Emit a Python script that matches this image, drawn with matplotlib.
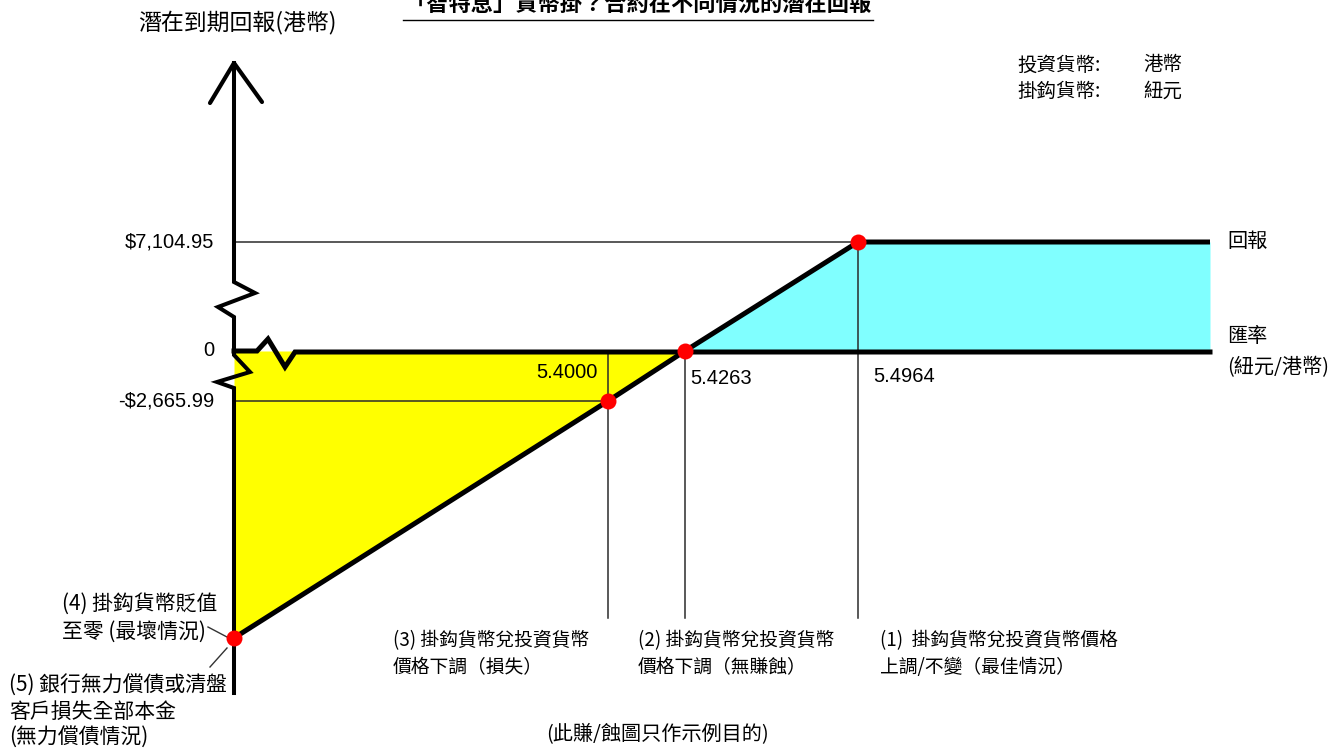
import numpy as np
import matplotlib

matplotlib.use("Agg")
import matplotlib.pyplot as plt
from matplotlib.transforms import Affine2D

# values
rates = [0.0, 5.4000, 5.4263, 5.4964]          # 匯率 (紐元/港幣)
returns = [-550000.0, -2665.99, 0.0, 7104.95]  # 潛在到期回報 (港幣)
rate_labels = ["5.4000", "5.4263", "5.4964"]
return_labels = ["-$2,665.99", "0", "$7,104.95"]

title = "「智特息」貨幣掛？合約在不同情況的潛在回報"
y_title = "潛在到期回報(港幣)"
info_rows = [("投資貨幣:", "港幣"), ("掛鈎貨幣:", "紐元")]
scenario_1 = ["(1)  掛鈎貨幣兌投資貨幣價格", "上調/不變（最佳情況）"]
scenario_2 = ["(2) 掛鈎貨幣兌投資貨幣", "價格下調（無賺蝕）"]
scenario_3 = ["(3) 掛鈎貨幣兌投資貨幣", "價格下調（損失）"]
scenario_4 = ["(4) 掛鈎貨幣貶值", "至零 (最壞情況)"]
scenario_5 = ["(5) 銀行無力償債或清盤", "客戶損失全部本金", "(無力償債情況)"]
footnote = "(此賺/蝕圖只作示例目的)"

CJK = ["Noto Sans CJK TC", "DejaVu Sans"]
NUM = ["Liberation Sans", "DejaVu Sans"]
W, H = 1344, 755


def piecewise(xk, yk):
    # linear between knots, extended with the end slopes
    xk = np.asarray(xk, float)
    yk = np.asarray(yk, float)
    s0 = (yk[1] - yk[0]) / (xk[1] - xk[0])
    s1 = (yk[-1] - yk[-2]) / (xk[-1] - xk[-2])

    def f(v):
        v = np.asarray(v, float)
        out = np.interp(v, xk, yk)
        out = np.where(v < xk[0], yk[0] + (v - xk[0]) * s0, out)
        out = np.where(v > xk[-1], yk[-1] + (v - xk[-1]) * s1, out)
        return out

    return f


def main():
    fig = plt.figure(figsize=(W / 100, H / 100), dpi=100)
    fig.patch.set_facecolor("white")
    ax = fig.add_axes([0, 0, 1, 1])
    ax.set_axis_off()

    # schematic (broken) scales: knots of the drawing, in pixels
    x_knots = [234, 608, 685, 858]
    y_knots = [H - p for p in (638, 401, 351, 242)]
    x_fwd, x_inv = piecewise(rates, x_knots), piecewise(x_knots, rates)
    y_fwd, y_inv = piecewise(returns, y_knots), piecewise(y_knots, returns)
    ax.set_xscale("function", functions=(x_fwd, x_inv))
    ax.set_yscale("function", functions=(y_fwd, y_inv))
    ax.set_xlim(float(x_inv(0)), float(x_inv(W)))
    ax.set_ylim(float(y_inv(0)), float(y_inv(H)))

    px = Affine2D().scale(1 / W, -1 / H).translate(0, 1) + fig.transFigure
    x_end = float(x_inv(1210))
    guide_bottom = float(y_inv(H - 618))
    ox, oy = float(x_fwd(0)), H - float(y_fwd(0))
    ex = float(x_fwd(x_end))

    # shaded loss / gain areas
    ax.fill_between(rates[:3], returns[:3], 0, color="#ffff00", lw=0, zorder=1)
    ax.fill_between([rates[2], rates[3], x_end], [0, 0, 0],
                    [0, returns[3], returns[3]], color="#80ffff", lw=0, zorder=1)

    # thin guide lines
    thin = dict(color="#2b2b2b", lw=1.1, zorder=2)
    ax.plot([0, rates[3]], [returns[3]] * 2, **thin)
    ax.plot([0, rates[1]], [returns[1]] * 2, **thin)
    for r, v in zip(rates[1:], returns[1:]):
        ax.plot([r, r], [max(v, 0), guide_bottom], **thin)

    # payoff line
    ax.plot(rates + [x_end], returns + [returns[3]], color="black", lw=3.6,
            solid_capstyle="butt", solid_joinstyle="round", zorder=3)

    # exchange-rate axis with its break
    zx = [0, 23, 34, 51, 61, ex - ox]
    zy = [0, 0, -12, 16, 1, 1]
    ax.plot([ox + a for a in zx], [oy + b for b in zy], color="black", lw=3.6,
            transform=px, solid_joinstyle="miter", zorder=3)

    # return axis with two breaks and arrow head
    ax_x = [0, 0, 21, -16, 0, 0, 16, -17, 0, 0]
    ax_y = [-288, -69, -58, -44, -34, 4, 21, 31, 37, 342]
    ax.plot([ox + a for a in ax_x], [oy + b for b in ax_y], color="black",
            lw=2.9, transform=px, solid_joinstyle="miter", zorder=3)
    ax.plot([ox - 24, ox, ox + 28], [oy - 248, oy - 288, oy - 249], color="black",
            lw=3.0, transform=px, solid_capstyle="round", zorder=3)

    # leader lines to the worst-case point
    wx, wy = ox, H - float(y_fwd(returns[0]))
    lead = dict(color="#333333", lw=1.0, transform=px, zorder=2)
    ax.plot([wx - 26, wx - 7], [wy - 11, wy - 1], **lead)
    ax.plot([wx - 7, wx - 24], [wy + 10, wy + 29], **lead)

    # points
    ax.plot(rates, returns, "o", color="#ff0000", ms=11.5, mec="none", zorder=4)

    def note(x, y, s, dx, dy, **kw):
        ax.annotate(s, xy=(x, y), xytext=(dx, dy), textcoords="offset pixels",
                    va="center", **kw)

    # value labels
    for s, v in zip(return_labels, returns[1:]):
        note(0, v, s, -20, 0, ha="right", family=NUM, fontsize=14.5)
    note(rates[1], 0, rate_labels[0], -10, -21, ha="right", family=NUM, fontsize=14.5)
    note(rates[2], 0, rate_labels[1], 5, -27, ha="left", family=NUM, fontsize=14.5)
    note(rates[3], 0, rate_labels[2], 15, -26, ha="left", family=NUM, fontsize=14.5)

    # right-hand labels
    note(x_end, returns[3], "回報", 17, 1, ha="left", family=CJK, fontsize=14.5)
    note(x_end, 0, "匯率", 17, 14, ha="left", family=CJK, fontsize=14.5)
    note(x_end, 0, "(紐元/港幣)", 17, -17, ha="left", family=CJK, fontsize=14.5)

    # scenario labels under the guide lines
    for lines, r, dx in ((scenario_3, rates[1], -215), (scenario_2, rates[2], -47),
                         (scenario_1, rates[3], 22)):
        for i, s in enumerate(lines):
            note(r, guide_bottom, s, dx, -23 - 27 * i, ha="left", family=CJK,
                 fontsize=13.5)
    for i, s in enumerate(scenario_4):
        note(0, returns[0], s, -172, 34 - 28 * i, ha="left", family=CJK, fontsize=15)
    for i, s in enumerate(scenario_5):
        note(0, returns[0], s, -225, -48 - 26 * i, ha="left", family=CJK, fontsize=15)

    # header texts (the title is cut by the top edge, as in the source image)
    fig.text(638, 4, title, transform=px, ha="center", va="center", family=CJK,
             fontsize=16, fontweight="bold")
    ax.plot([403, 873], [20, 20], color="black", lw=1.0, transform=px)
    fig.text(237, 22, y_title, transform=px, ha="center", va="center", family=CJK,
             fontsize=16.5)
    for i, (k, v) in enumerate(info_rows):
        fig.text(1017, 65 + 26 * i, k, transform=px, ha="left", va="center",
                 family=CJK, fontsize=14)
        fig.text(1143, 65 + 26 * i, v, transform=px, ha="left", va="center",
                 family=CJK, fontsize=14)
    fig.text(657, 735, footnote, transform=px, ha="center", va="center",
             family=CJK, fontsize=14.5)

    fig.savefig("out.png", dpi=100, facecolor="white")
    plt.close(fig)


if __name__ == "__main__":
    main()
